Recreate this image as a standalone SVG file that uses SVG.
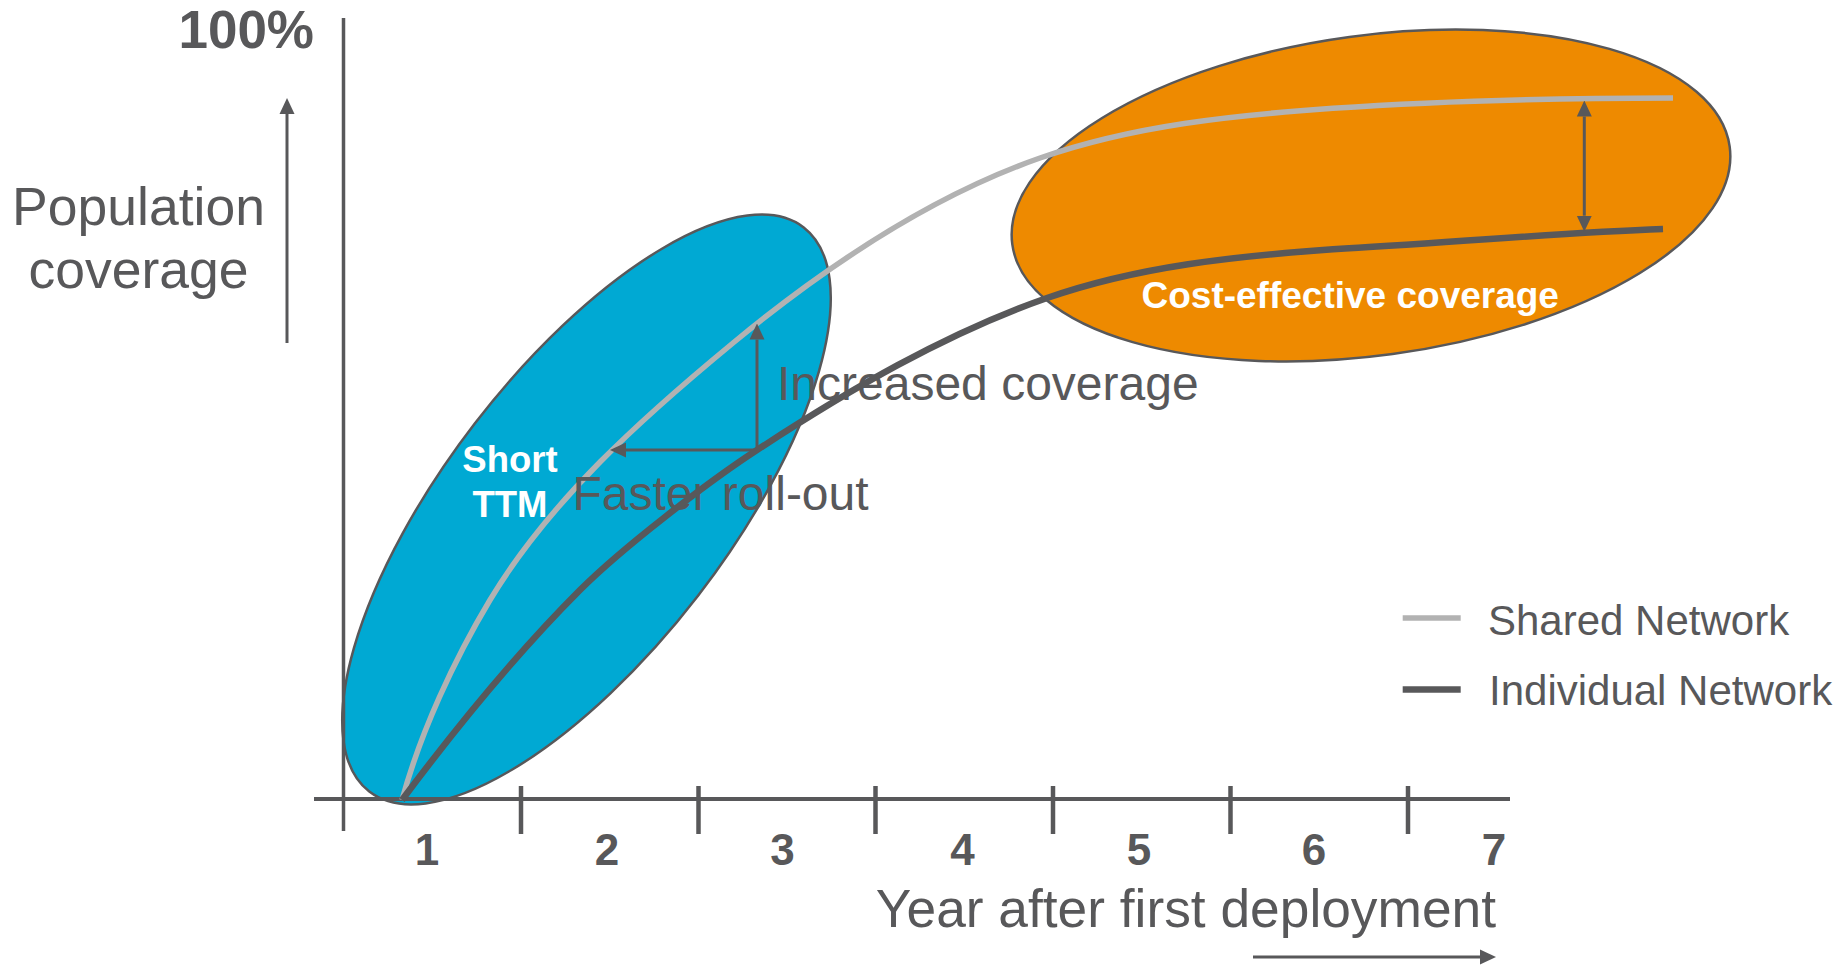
<svg xmlns="http://www.w3.org/2000/svg" width="1845" height="966" viewBox="0 0 1845 966">
  <style>
    .t { font-family: "Liberation Sans", Arial, sans-serif; fill: #58585a; }
    .b { font-weight: bold; }
    .w { fill: #ffffff; font-weight: bold; }
    .ax { stroke: #58585a; fill: none; }
    .arr { stroke: #58585a; stroke-width: 3; fill: none; }
    .shared { stroke: #b2b2b2; stroke-width: 5.5; fill: none; }
    .indiv { stroke: #58585a; stroke-width: 6.5; fill: none; }
    .ell { stroke: #58585a; stroke-width: 2.5; }
  </style>
  <defs>
    <marker id="ah" markerUnits="userSpaceOnUse" viewBox="0 0 16 16" markerWidth="16" markerHeight="16" refX="0" refY="8" orient="auto-start-reverse">
      <path d="M0,0.5 L16,8 L0,15.5 z" fill="#58585a"/>
    </marker>
  </defs>

  <rect x="0" y="0" width="1845" height="966" fill="#ffffff"/>

  <g id="short-ttm">
    <ellipse class="ell" cx="586.5" cy="509.5" rx="356" ry="141" fill="#00a9d3" transform="rotate(-52.4 586.5 509.5)"/>
    <text class="t w" x="510" y="472" font-size="36.5" text-anchor="middle">Short</text>
    <text class="t w" x="510" y="516.5" font-size="36.5" text-anchor="middle">TTM</text>
  </g>

  <g id="cost-effective">
    <ellipse class="ell" cx="1371" cy="195.5" rx="362" ry="160" fill="#ee8a00" transform="rotate(-7.76 1371 195.5)"/>
  </g>

  <g id="axes">
    <line class="ax" x1="343.5" y1="18" x2="343.5" y2="831" stroke-width="3.5"/>
    <line class="ax" x1="314" y1="799" x2="1510" y2="799" stroke-width="4"/>
    <g stroke-width="4.5" class="ax">
      <line x1="521" y1="786" x2="521" y2="834"/>
      <line x1="698.5" y1="786" x2="698.5" y2="834"/>
      <line x1="875.5" y1="786" x2="875.5" y2="834"/>
      <line x1="1053" y1="786" x2="1053" y2="834"/>
      <line x1="1230.5" y1="786" x2="1230.5" y2="834"/>
      <line x1="1408" y1="786" x2="1408" y2="834"/>
    </g>
    <text class="t b" x="314" y="48" font-size="53" text-anchor="end">100%</text>
    <text class="t" x="138.5" y="225" font-size="53.5" text-anchor="middle">Population</text>
    <text class="t" x="138.5" y="288" font-size="53.5" text-anchor="middle">coverage</text>
    <g class="t b" font-size="44" text-anchor="middle">
      <text x="427" y="865">1</text>
      <text x="607" y="865">2</text>
      <text x="782.5" y="865">3</text>
      <text x="962.5" y="865">4</text>
      <text x="1139" y="865">5</text>
      <text x="1314" y="865">6</text>
      <text x="1494" y="865">7</text>
    </g>
    <text class="t" x="1496" y="927" font-size="53.3" text-anchor="end">Year after first deployment</text>
  </g>

  <g id="curves">
    <path id="shared-network" class="shared" d="M402,800 C420.5,732.5 454,660 490,600 C550.3,499.7 642.8,417.4 733,343 C824.7,267.3 927.7,197.3 1040,158 C1133.5,125.3 1234.2,115.2 1333,108.3 C1446,100.3 1560,98 1673,98"/>
    <path id="individual-network" class="indiv" d="M402,800 C457,726.4 515,655 580,590 C621.7,548.3 707.6,482.2 757,450 C848.3,390.6 944.1,334 1047,298 C1138.6,266 1236.2,256.1 1333,249.3 C1443,243.3 1553,233 1663,229"/>
  </g>

  <g id="connectors">
    <path class="arr" d="M287,343 V114" stroke-width="2.5" marker-end="url(#ah)"/>
    <path class="arr" d="M1253,957 H1480" stroke-width="2.5" marker-end="url(#ah)"/>
    <path class="arr" d="M757,450 V339.5" marker-end="url(#ah)"/>
    <path class="arr" d="M757,450 H626" marker-end="url(#ah)"/>
    <path class="arr" d="M1584.3,116.5 V215.7" marker-start="url(#ah)" marker-end="url(#ah)"/>
  </g>

  <g id="labels">
    <text class="t" x="777" y="400" font-size="48">Increased coverage</text>
    <text class="t" x="572.5" y="510" font-size="48">Faster roll-out</text>
    <text class="t w" x="1141.5" y="308" font-size="37">Cost-effective coverage</text>
  </g>

  <g id="legend">
    <line x1="1402.7" y1="618" x2="1460.7" y2="618" stroke="#b2b2b2" stroke-width="5.5"/>
    <text class="t" x="1488" y="635" font-size="42">Shared Network</text>
    <line x1="1402.7" y1="689.5" x2="1460.7" y2="689.5" stroke="#58585a" stroke-width="6.5"/>
    <text class="t" x="1489" y="705" font-size="42">Individual Network</text>
  </g>
</svg>
